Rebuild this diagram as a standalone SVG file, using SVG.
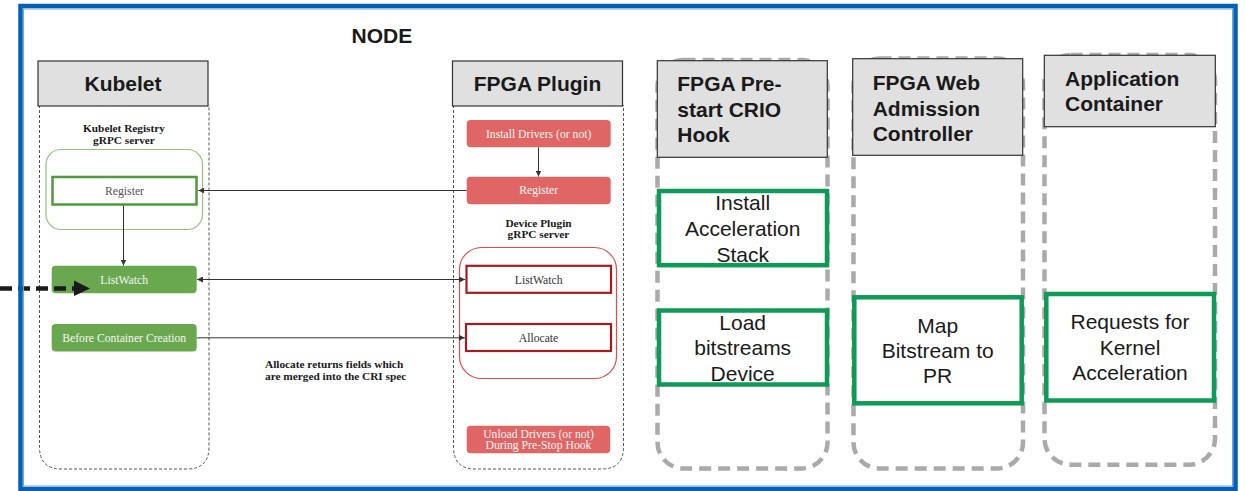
<svg xmlns="http://www.w3.org/2000/svg" width="1245" height="491" viewBox="0 0 1245 491">
  <defs>
    <marker id="tip" viewBox="0 0 10 10" refX="10" refY="5" markerWidth="6" markerHeight="6" markerUnits="userSpaceOnUse" orient="auto-start-reverse">
      <path d="M0,0 L10,5 L0,10 z" fill="#333"/>
    </marker>
    <style>
      .head { fill: #e0e0e0; stroke: #333; stroke-width: 1.2; }
      .htxt { font-family: "Liberation Sans", Arial, sans-serif; font-weight: bold; font-size: 21px; fill: #1a1a1a; }
      .lane-thin { fill: none; stroke: #555; stroke-width: 1; stroke-dasharray: 3 2; }
      .lane-thick { fill: none; stroke: #aaaaaa; stroke-width: 4.5; stroke-dasharray: 12 7; }
      .step { fill: #fff; stroke: #109a57; stroke-width: 4.5; }
      .stxt { font-family: "Liberation Sans", Arial, sans-serif; font-size: 21px; fill: #1a1a1a; text-anchor: middle; }
      .slab { font-family: "Liberation Serif", "Times New Roman", serif; font-size: 11.7px; text-anchor: middle; }
      .slabb { font-family: "Liberation Serif", "Times New Roman", serif; font-size: 11.3px; font-weight: bold; fill: #1a1a1a; }
      .gfill { fill: #6aa84f; }
      .rfill { fill: #e06666; }
      .wt { fill: #f4f4f4; }
      .conn { stroke: #333; stroke-width: 1; fill: none; }
    </style>
  </defs>

  <rect width="1245" height="491" fill="#fff"/>

  <!-- Kubelet lane -->
  <g id="kubelet">
    <path class="lane-thin" d="M39.5,105 V447 Q39.5,469 61.5,469 H187 Q209,469 209,447 V105"/>
    <rect class="head" x="38" y="61" width="170" height="45"/>
    <text x="123" y="91" class="htxt" text-anchor="middle">Kubelet</text>
    <text x="124" y="131.5" class="slabb" text-anchor="middle">Kubelet Registry</text>
    <text x="124" y="144" class="slabb" text-anchor="middle">gRPC server</text>
    <rect x="46" y="149.5" width="156.5" height="80" rx="15" fill="none" stroke="#93c47d" stroke-width="1.2"/>
  </g>
  <g id="kubelet-register">
    <rect x="52.5" y="177" width="144" height="27.5" fill="#fff" stroke="#4f9a3a" stroke-width="2.5"/>
    <text x="124.5" y="194.5" class="slab" fill="#555">Register</text>
  </g>
  <g id="kubelet-listwatch">
    <rect class="gfill" x="51.7" y="265.7" width="145" height="27.6" rx="4"/>
    <text x="124.2" y="284" class="slab wt">ListWatch</text>
  </g>
  <g id="kubelet-before-creation">
    <rect class="gfill" x="51.7" y="324" width="145" height="27.4" rx="4"/>
    <text x="124.2" y="341.7" class="slab wt">Before Container Creation</text>
  </g>
  <text id="allocate-note" class="slabb">
    <tspan x="265" y="368.3">Allocate returns fields which</tspan>
    <tspan x="265" y="379.6">are merged into the CRI spec</tspan>
  </text>

  <!-- FPGA Plugin lane -->
  <g id="fpga-plugin">
    <path class="lane-thin" d="M453.5,105 V447 Q453.5,469 475.5,469 H601.5 Q623.5,469 623.5,447 V105"/>
    <rect class="head" x="452.5" y="61" width="170" height="45"/>
    <text x="537.5" y="91" class="htxt" text-anchor="middle">FPGA Plugin</text>
    <text x="538.5" y="226.5" class="slabb" text-anchor="middle">Device Plugin</text>
    <text x="538.5" y="238.3" class="slabb" text-anchor="middle">gRPC server</text>
    <rect x="459.5" y="247.5" width="157" height="131" rx="22" fill="none" stroke="#e04a4a" stroke-width="1.2"/>
  </g>
  <g id="plugin-install-drivers">
    <rect class="rfill" x="466.7" y="120" width="144" height="27.3" rx="4"/>
    <text x="538.7" y="137.7" class="slab wt">Install Drivers (or not)</text>
  </g>
  <g id="plugin-register">
    <rect class="rfill" x="466.7" y="176.7" width="144" height="27.6" rx="4"/>
    <text x="538.7" y="194.3" class="slab wt">Register</text>
  </g>
  <g id="plugin-listwatch">
    <rect x="466.5" y="265.8" width="144.5" height="27" fill="#fff" stroke="#a61c1c" stroke-width="2.2"/>
    <text x="538.7" y="283.5" class="slab" fill="#333">ListWatch</text>
  </g>
  <g id="plugin-allocate">
    <rect x="466" y="324" width="145" height="27" fill="#fff" stroke="#a61c1c" stroke-width="2.2"/>
    <text x="538.5" y="341.7" class="slab" fill="#333">Allocate</text>
  </g>
  <g id="plugin-unload-drivers">
    <rect class="rfill" x="466.7" y="425.7" width="143.5" height="27.6" rx="4"/>
    <text x="538.5" y="438.3" class="slab wt">Unload Drivers (or not)</text>
    <text x="538.5" y="449.3" class="slab wt">During Pre-Stop Hook</text>
  </g>

  <!-- FPGA Pre-start CRIO Hook lane -->
  <g id="crio-hook">
    <rect class="lane-thick" x="657.5" y="60" width="170" height="408.5" rx="26"/>
    <rect class="head" x="657.3" y="60.7" width="170" height="96.6"/>
    <text class="htxt"><tspan x="677.3" y="91">FPGA Pre-</tspan><tspan x="677.3" y="116.8">start CRIO</tspan><tspan x="677.3" y="142">Hook</tspan></text>
  </g>
  <g id="install-acceleration-stack">
    <rect class="step" x="659" y="191" width="168" height="74.2"/>
    <text class="stxt"><tspan x="742.7" y="210">Install</tspan><tspan x="742.7" y="236">Acceleration</tspan><tspan x="742.7" y="261.7">Stack</tspan></text>
  </g>
  <g id="load-bitstreams">
    <rect class="step" x="659" y="310.5" width="168" height="74"/>
    <text class="stxt"><tspan x="742.7" y="330">Load</tspan><tspan x="742.7" y="355.3">bitstreams</tspan><tspan x="742.7" y="380.5">Device</tspan></text>
  </g>

  <!-- FPGA Web Admission Controller lane -->
  <g id="admission-controller">
    <rect class="lane-thick" x="853.5" y="58.5" width="169.5" height="410" rx="26"/>
    <rect class="head" x="852.7" y="58.7" width="170" height="96.6"/>
    <text class="htxt"><tspan x="872.7" y="90">FPGA Web</tspan><tspan x="872.7" y="115.7">Admission</tspan><tspan x="872.7" y="140.5">Controller</tspan></text>
  </g>
  <g id="map-bitstream">
    <rect class="step" x="854.3" y="297.3" width="167.4" height="106"/>
    <text class="stxt"><tspan x="937.7" y="332.7">Map</tspan><tspan x="937.7" y="357.7">Bitstream to</tspan><tspan x="937.7" y="382.7">PR</tspan></text>
  </g>

  <!-- Application Container lane -->
  <g id="application-container">
    <rect class="lane-thick" x="1044.5" y="55" width="170.5" height="409.7" rx="26"/>
    <rect class="head" x="1044.3" y="55.3" width="171" height="71.4"/>
    <text class="htxt"><tspan x="1065" y="86">Application</tspan><tspan x="1065" y="111.3">Container</tspan></text>
  </g>
  <g id="kernel-requests">
    <rect class="step" x="1046.3" y="294" width="167.7" height="106.5"/>
    <text class="stxt"><tspan x="1130" y="329.3">Requests for</tspan><tspan x="1130" y="354.7">Kernel</tspan><tspan x="1130" y="379.5">Acceleration</tspan></text>
  </g>

  <!-- connectors -->
  <g id="connectors">
    <line class="conn" x1="538.5" y1="147.3" x2="538.5" y2="176.5" marker-end="url(#tip)"/>
    <line class="conn" x1="466.7" y1="190.5" x2="198.3" y2="190.5" marker-end="url(#tip)"/>
    <line class="conn" x1="123.5" y1="205.5" x2="123.5" y2="265.5" marker-end="url(#tip)"/>
    <line class="conn" x1="197" y1="279.5" x2="465.2" y2="279.5" marker-start="url(#tip)" marker-end="url(#tip)"/>
    <line class="conn" x1="196.7" y1="337.8" x2="464.8" y2="337.8" marker-end="url(#tip)"/>
    <!-- incoming dashed arrow from outside the node -->
    <line x1="0" y1="288.5" x2="78" y2="288.5" stroke="#1a1a1a" stroke-width="4.5" stroke-dasharray="12 6"/>
    <polygon points="74,280.5 90,288.5 74,296" fill="#1a1a1a"/>
  </g>

  <!-- node frame -->
  <g id="node-frame">
    <rect x="20.5" y="6" width="1215" height="483" fill="none" stroke="#0560b4" stroke-width="4.5"/>
    <rect x="23.5" y="9" width="1209" height="477" fill="none" stroke="#6fa6dc" stroke-width="1"/>
    <text x="351.5" y="42.5" class="htxt">NODE</text>
  </g>
</svg>
